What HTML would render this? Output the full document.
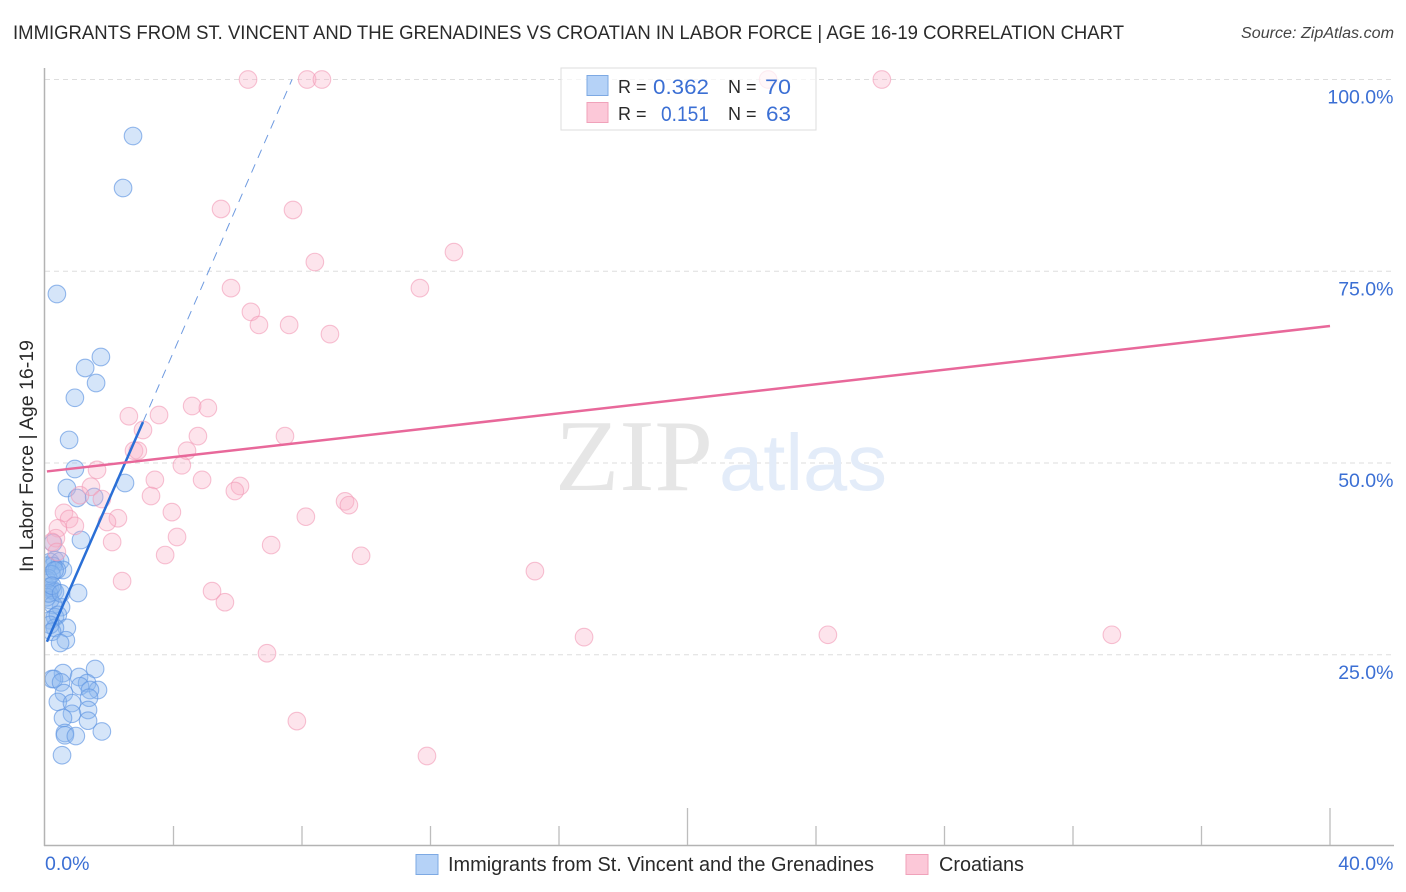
<!DOCTYPE html>
<html lang="en">
<head>
<meta charset="utf-8">
<title>Correlation chart</title>
<style>
html,body{margin:0;padding:0;background:#fff;width:1406px;height:892px;overflow:hidden}
svg{display:block;font-family:"Liberation Sans",sans-serif}
</style>
</head>
<body>
<svg id="chart" width="1406" height="892" viewBox="0 0 1406 892" xmlns="http://www.w3.org/2000/svg">
  <defs>
    <clipPath id="plot-clip"><rect x="45" y="60" width="1355" height="786"/></clipPath>
  </defs>
  <rect x="0" y="0" width="1406" height="892" fill="#ffffff"/>
  <text x="13" y="39" font-size="19.5" fill="#2a2a2a" textLength="1111" lengthAdjust="spacingAndGlyphs">IMMIGRANTS FROM ST. VINCENT AND THE GRENADINES VS CROATIAN IN LABOR FORCE | AGE 16-19 CORRELATION CHART</text>
  <text x="1241" y="38" font-size="15.5" font-style="italic" fill="#444" textLength="153" lengthAdjust="spacingAndGlyphs">Source: ZipAtlas.com</text>
  <g id="grid"></g>
  <text x="555" y="490" font-family="'Liberation Serif',serif" font-size="102" fill="#e6e6e6" textLength="158" lengthAdjust="spacingAndGlyphs">ZIP</text>
  <text x="719" y="490" font-size="80" fill="#e3ecf9" textLength="168" lengthAdjust="spacingAndGlyphs">atlas</text>
  <g id="marks-blue" clip-path="url(#plot-clip)"></g>
  <g id="marks-pink" clip-path="url(#plot-clip)"></g>
  <g id="trends"></g>
  <g id="axes"></g>
  <text transform="translate(33,572) rotate(-90)" font-size="19" fill="#2a2a2a" textLength="232" lengthAdjust="spacingAndGlyphs">In Labor Force | Age 16-19</text>

  <g>
    <rect x="561" y="68" width="255" height="62" fill="#ffffff" fill-opacity="0.7" stroke="#dddddd" stroke-width="1"/>
    <rect x="587" y="75.5" width="21" height="20" fill="#b5d2f7" stroke="#7da9e3" stroke-width="1"/>
    <rect x="587" y="102.5" width="21" height="20" fill="#fcc8d8" stroke="#f0a2ba" stroke-width="1"/>
    <text x="618" y="93" font-size="18" fill="#2a2a2a">R =</text>
    <text x="653" y="94" font-size="21.5" fill="#3b6fd4" textLength="56" lengthAdjust="spacingAndGlyphs">0.362</text>
    <text x="728" y="93" font-size="18" fill="#2a2a2a">N =</text>
    <text x="765" y="94" font-size="21.5" fill="#3b6fd4" textLength="26" lengthAdjust="spacingAndGlyphs">70</text>
    <text x="618" y="120" font-size="18" fill="#2a2a2a">R =</text>
    <text x="661" y="121" font-size="21.5" fill="#3b6fd4" textLength="48" lengthAdjust="spacingAndGlyphs">0.151</text>
    <text x="728" y="120" font-size="18" fill="#2a2a2a">N =</text>
    <text x="766" y="121" font-size="21.5" fill="#3b6fd4" textLength="25" lengthAdjust="spacingAndGlyphs">63</text>
  </g>

  <g>
    <rect x="416" y="854.5" width="22" height="20" fill="#b5d2f7" stroke="#7da9e3" stroke-width="1"/>
    <text x="448" y="871" font-size="20" fill="#2a2a2a" textLength="426" lengthAdjust="spacingAndGlyphs">Immigrants from St. Vincent and the Grenadines</text>
    <rect x="906" y="854.5" width="22" height="20" fill="#fcc8d8" stroke="#f0a2ba" stroke-width="1"/>
    <text x="939" y="871" font-size="20" fill="#2a2a2a" textLength="85" lengthAdjust="spacingAndGlyphs">Croatians</text>
  </g>
</svg>
<script>
// Data (x and y are percentages)
const immigrantsX = [2.74,2.43,0.37,1.74,1.25,1.59,0.93,0.75,0.93,0.68,2.49,1.0,1.53,1.12,0.25,0.31,0.16,0.47,0.56,0.25,0.06,0.37,0.16,0.06,0.25,0.06,1.03,0.31,0.5,0.16,0.06,0.25,0.31,0.16,0.4,0.68,0.31,0.16,0.22,0.65,0.47,1.56,0.56,1.06,0.22,0.28,0.5,1.31,1.09,1.65,1.4,0.59,1.37,0.4,0.84,1.34,0.84,0.56,1.34,0.62,0.62,0.96,1.77,0.53,0.1,0.2,0.12,0.3,0.22,0.5];
const immigrantsY = [92.63,85.85,72.03,63.82,62.39,60.43,58.5,53.01,49.22,46.74,47.39,45.44,45.57,39.96,39.57,37.35,37.09,37.2,36.05,36.57,36.6,36.05,33.44,33.8,33.44,34.75,33.05,33.18,31.2,32.14,32.5,31.5,29.9,29.5,30.2,28.5,28.5,28.9,28,26.9,26.53,23.14,22.6,22.1,21.84,21.84,21.4,21.3,20.9,20.4,20.4,20,19.4,18.85,18.7,17.8,17.3,16.75,16.4,14.8,14.5,14.4,15,11.9,35,35.5,33,36,34,33];
const croatiansX = [6.32,8.16,8.62,22.51,26.05,5.48,7.72,8.4,12.73,11.67,5.79,6.41,6.66,7.6,8.87,4.58,5.07,2.61,3.55,3.05,4.76,7.47,2.77,2.89,4.42,4.26,1.62,4.89,3.42,6.07,5.91,3.3,9.34,9.46,3.95,2.27,8.12,1.93,4.11,2.09,7.04,3.74,9.84,15.25,2.4,5.2,5.6,16.78,24.37,33.21,6.91,7.84,11.89,1.43,1.09,1.77,0.59,0.75,0.93,0.4,0.34,0.22,0.37];
const croatiansY = [100,100,100,100,100,83.12,82.99,76.2,77.5,72.8,72.8,69.7,68,68,66.8,57.43,57.17,56.1,56.26,54.3,53.5,53.5,51.6,51.6,51.6,49.7,49.1,47.8,47.8,47,46.35,45.7,45,44.5,43.6,42.8,43,42.3,40.35,39.7,39.3,38,37.9,35.9,34.6,33.3,31.85,27.3,27.6,27.6,25.2,16.35,11.8,46.9,45.8,45.3,43.5,42.7,41.8,41.5,40.2,39.7,38.4];
const immigrantsTrendX = [0.06,3.05];
const immigrantsTrendY = [26.7,55.35];
const immigrantsProjectionX = [3.05,7.69];
const immigrantsProjectionY = [55.35,100];
const croatiansTrendX = [0.06,40];
const croatiansTrendY = [48.9,67.86];
const yTickValues = [25,50,75,100];
const yTickLabels = ['25.0%','50.0%','75.0%','100.0%'];
const xTickValues = [0,4,8,12,16,20,24,28,32,36,40];
const xTickMajor = [20,40];
const xEndLabels = ['0.0%','40.0%'];

const NS = 'http://www.w3.org/2000/svg';
const xPx = v => 45 + v * 32.125;
const yPx = v => 79.5 + (100 - v) * 7.67;
function make(tag, attrs, parent, text) {
  const el = document.createElementNS(NS, tag);
  for (const k in attrs) el.setAttribute(k, attrs[k]);
  if (text !== undefined) el.textContent = text;
  parent.appendChild(el);
  return el;
}
const grid = document.getElementById('grid');
const axes = document.getElementById('axes');
const marksBlue = document.getElementById('marks-blue');
const marksPink = document.getElementById('marks-pink');
const trends = document.getElementById('trends');

yTickValues.forEach((v, i) => {
  const line = make('line', {x1: 45, x2: 1393, y1: yPx(v), y2: yPx(v), stroke: '#dedede', 'stroke-width': 1, 'stroke-dasharray': '5 4'}, grid);
  
  
  const label = make('text', {x: 1393.5, y: yPx(v) + 24, 'text-anchor': 'end', 'font-size': 19.5, fill: '#3b6fd4'}, axes, yTickLabels[i]);
  
  
});

const axisY = make('line', {x1: 44.5, x2: 44.5, y1: 68, y2: 846, stroke: '#b3b3b3', 'stroke-width': 1.5}, axes);


const axisX = make('line', {x1: 44, x2: 1394, y1: 845.5, y2: 845.5, stroke: '#b3b3b3', 'stroke-width': 1.5}, axes);



xTickValues.forEach(v => {
  if (v === 0) return;
  const major = xTickMajor.includes(v);
  const tick = make('line', {x1: xPx(v), x2: xPx(v), y1: major ? 808 : 826, y2: 845, stroke: '#bdbdbd', 'stroke-width': 1.3}, axes);
  
  
});
const xLabelStart = make('text', {x: 45, y: 870, 'font-size': 19.5, fill: '#3b6fd4'}, axes, xEndLabels[0]);


const xLabelEnd = make('text', {x: 1393.5, y: 870, 'text-anchor': 'end', 'font-size': 19.5, fill: '#3b6fd4'}, axes, xEndLabels[1]);



immigrantsX.forEach((x, i) => {
  const c = make('circle', {cx: xPx(x), cy: yPx(immigrantsY[i]), r: 8.8, fill: '#8ab6ee', 'fill-opacity': 0.36, stroke: '#5f95e2', 'stroke-opacity': 0.65, 'stroke-width': 1.1}, marksBlue);
  
  
});
croatiansX.forEach((x, i) => {
  const c = make('circle', {cx: xPx(x), cy: yPx(croatiansY[i]), r: 8.8, fill: '#f9b0c7', 'fill-opacity': 0.34, stroke: '#f19ab6', 'stroke-opacity': 0.6, 'stroke-width': 1.1}, marksPink);
  
  
});

const blueLine = make('line', {x1: xPx(immigrantsTrendX[0]), y1: yPx(immigrantsTrendY[0]), x2: xPx(immigrantsTrendX[1]), y2: yPx(immigrantsTrendY[1]), stroke: '#2a6fd6', 'stroke-width': 2.5}, trends);


const blueDash = make('line', {x1: xPx(immigrantsProjectionX[0]), y1: yPx(immigrantsProjectionY[0]), x2: xPx(immigrantsProjectionX[1]), y2: yPx(immigrantsProjectionY[1]), stroke: '#6e9ae0', 'stroke-width': 1, 'stroke-dasharray': '9 7'}, trends);


const pinkLine = make('line', {x1: xPx(croatiansTrendX[0]), y1: yPx(croatiansTrendY[0]), x2: xPx(croatiansTrendX[1]), y2: yPx(croatiansTrendY[1]), stroke: '#e8689a', 'stroke-width': 2.5}, trends);


</script>
</body>
</html>
